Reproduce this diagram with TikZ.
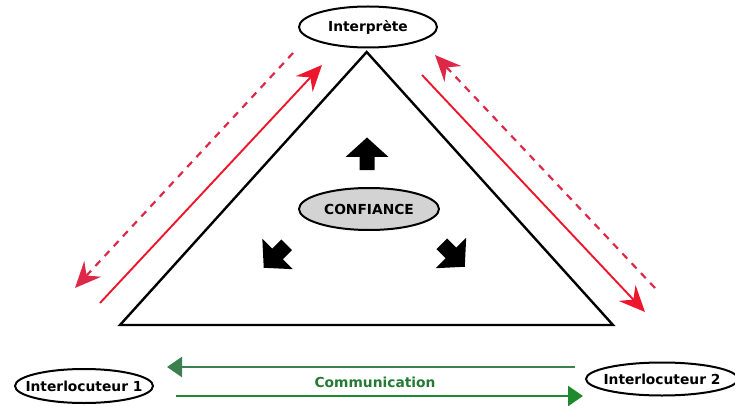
\documentclass[tikz,border=0pt]{standalone}
\usepackage{fontspec}
\setmainfont{DejaVu Sans}
\usetikzlibrary{shapes.geometric,arrows.meta}
\definecolor{myred}{RGB}{238,22,44}
\definecolor{myreddash}{RGB}{222,40,72}
\definecolor{mygreen}{RGB}{30,138,45}
\definecolor{mygreentop}{RGB}{60,128,80}
\definecolor{mygreentext}{RGB}{36,122,52}
\definecolor{mygray}{RGB}{211,211,211}
\tikzset{
  lbl/.style={ellipse, draw=black, line width=2pt, font=\bfseries\fontsize{13.8}{16}\selectfont,
              inner xsep=-20pt, inner ysep=-5pt},
  redsolid/.style={draw=myred, line width=1.9pt, -{Stealth[length=26pt,width=23pt,inset=9pt]}},
  reddash/.style={draw=myreddash, line width=2.2pt, dash pattern=on 7pt off 6.5pt,
              -{Stealth[length=26pt,width=23pt,inset=9pt]}},
  greenarr/.style={line width=2.6pt, -{Triangle[length=15pt,width=20pt]}},
  tri/.style={draw=black, line width=2.4pt, line join=miter},
  blockarrow/.pic={\fill[black] (0,-16.5) -- (21.5,3) -- (7.5,3) -- (7.5,16) -- (-7.5,16) -- (-7.5,3) -- (-21.5,3) -- cycle;}
}
\begin{document}
\begin{tikzpicture}[x=1pt,y=-1pt]
\useasboundingbox (0,0) rectangle (735,406);
% triangle
\coordinate (apex) at (366.7,52);
\coordinate (bl) at (120,325);
\coordinate (br) at (613,325);
\draw[tri] (apex) -- (br) -- (bl) -- cycle;
% nodes
\node[lbl, minimum width=138pt, minimum height=41pt] (interp) at (368,27) {Interprète};
\node[lbl, fill=mygray, minimum width=140pt, minimum height=42pt] (conf) at (369,209) {CONFIANCE};
\node[lbl, minimum width=138pt, minimum height=34pt] (int1) at (84,386) {Interlocuteur 1};
\node[lbl, minimum width=152pt, minimum height=33pt] (int2) at (662,379) {Interlocuteur 2};
% block arrows
\pic at (367,154) {blockarrow};
\pic[rotate=135] at (275.4,256.1) {blockarrow};
\pic[rotate=-135] at (453.1,255.1) {blockarrow};
% red arrows
\coordinate (ls1) at (100,303);   \coordinate (ls2) at (322,65);
\coordinate (ld1) at (293,53);    \coordinate (ld2) at (75,288);
\coordinate (rs1) at (422,75);    \coordinate (rs2) at (645,312);
\coordinate (rd1) at (655,288);   \coordinate (rd2) at (435,55);
\draw[redsolid] (ls1) -- (ls2);
\draw[reddash] (ld1) -- (ld2);
\draw[redsolid] (rs1) -- (rs2);
\draw[reddash] (rd1) -- (rd2);
% green arrows
\coordinate (g1a) at (575,367);  \coordinate (g1b) at (167,367);
\coordinate (g2a) at (176,396);  \coordinate (g2b) at (583,396);
\draw[greenarr, draw=mygreentop, fill=mygreen] (g1a) -- (g1b);
\draw[greenarr, draw=mygreen, fill=mygreen] (g2a) -- (g2b);
\node[font=\bfseries\fontsize{13.8}{16}\selectfont, text=mygreentext] (comm) at (375,382) {Communication};
\end{tikzpicture}
\end{document}
